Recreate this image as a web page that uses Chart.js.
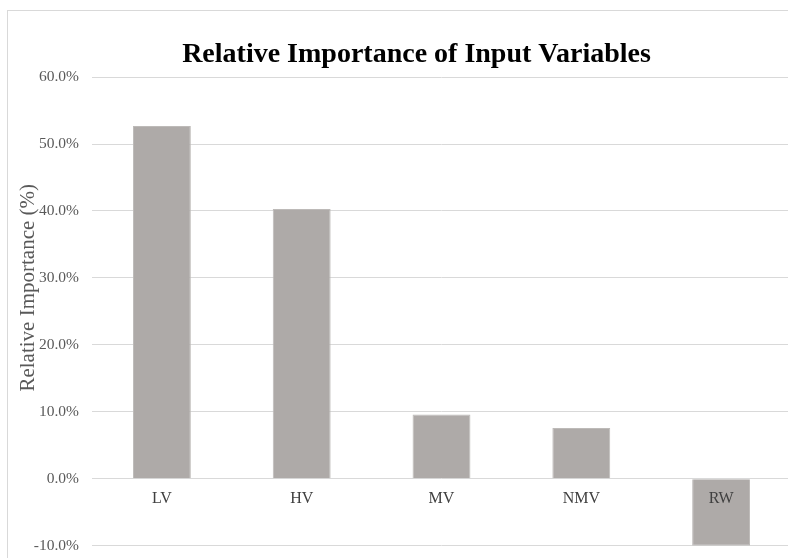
<!DOCTYPE html>
<html>
<head>
<meta charset="utf-8">
<script src="https://cdn.jsdelivr.net/npm/chart.js@4.4.1/dist/chart.umd.min.js"></script>
<style>
  html, body { margin: 0; padding: 0; background: #fff; overflow: hidden; }
  #wrap { position: relative; width: 788px; height: 558px; overflow: hidden; }
  #frame { position: absolute; left: 7px; top: 10px; width: 820px; height: 600px; border: 1px solid #d9d9d9; }
  canvas { position: absolute; left: 0; top: 0; }
</style>
</head>
<body>
<div id="wrap">
  <div id="frame"></div>
  <canvas id="chart" width="833" height="568"></canvas>
</div>
<script>
// Categorías y valores (en %)
const variables = ['LV', 'HV', 'MV', 'NMV', 'RW'];
const importance = [52.7, 40.3, 9.6, 7.6, -10.0];
const yMin = -10;
const yMax = 60;
const yStep = 10;

const serif = '"Liberation Serif", "Times New Roman", serif';

new Chart(document.getElementById('chart'), {
    type: 'bar',
    data: {
        labels: variables,
        datasets: [{
            label: 'Relative Importance',
            data: importance,
            backgroundColor: '#aeaaa8',
            borderColor: '#bdbab8',
            borderWidth: 1,
            barPercentage: 0.414,
            categoryPercentage: 1.0
        }]
    },
    options: {
        responsive: false,
        animation: false,
        layout: {
            padding: { left: 0, right: 42, top: 0, bottom: 3 }
        },
        plugins: {
            legend: { display: false },
            tooltip: { enabled: false },
            title: {
                display: true,
                // espacios iniciales para centrar el título como en Excel
                text: '\u00a0'.repeat(6) + 'Relative Importance of Input Variables',
                color: '#000',
                font: { family: serif, size: 28, weight: 'bold' },
                padding: { top: 38, bottom: 5.5 }
            }
        },
        scales: {
            x: {
                type: 'category',
                position: { y: 0 },
                grid: { display: false, drawTicks: false },
                border: { display: false },
                ticks: {
                    z: 1,
                    color: '#404040',
                    font: { family: serif, size: 16 },
                    padding: 10
                }
            },
            y: {
                min: yMin,
                max: yMax,
                grid: { color: '#d9d9d9', lineWidth: 1, drawTicks: false },
                border: { display: false },
                ticks: {
                    stepSize: yStep,
                    color: '#595959',
                    font: { family: serif, size: 15.5 },
                    padding: 13,
                    callback: v => v.toFixed(1) + '%'
                },
                title: {
                    display: true,
                    // espacios iniciales para subir el texto como en el original
                    text: '\u00a0'.repeat(9) + 'Relative Importance (%)',
                    color: '#595959',
                    font: { family: serif, size: 21 },
                    padding: { top: 16, bottom: 0 }
                },
                afterFit: scale => { scale.width = 92; }
            }
        }
    }
});
</script>
</body>
</html>
